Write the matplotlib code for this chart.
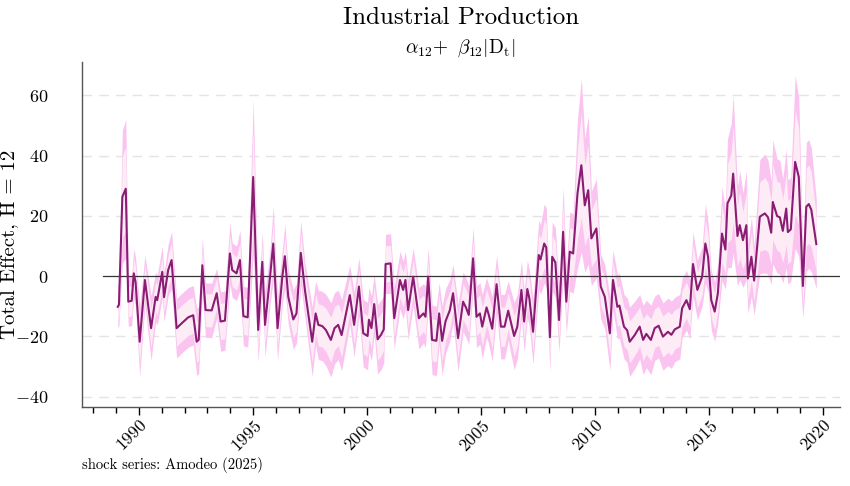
import numpy as np
import matplotlib
matplotlib.use("Agg")
import matplotlib.pyplot as plt
from matplotlib.ticker import MultipleLocator

plt.rcParams['font.family'] = 'serif'
plt.rcParams['font.serif'] = ['cmr10']
plt.rcParams['mathtext.fontset'] = 'cm'
plt.rcParams['axes.formatter.use_mathtext'] = True

# date (decimal year), point estimate and standard error of the H=12 total effect
dates = [1989.07, 1989.12, 1989.27, 1989.42, 1989.53, 1989.68, 1989.77, 1989.85,
         1990.03, 1990.26, 1990.53, 1990.73, 1990.80, 1991.02, 1991.10, 1991.28,
         1991.43, 1991.65, 1991.87, 1992.16, 1992.38, 1992.53, 1992.62, 1992.78,
         1992.92, 1993.19, 1993.41, 1993.58, 1993.77, 1993.99, 1994.09, 1994.28,
         1994.43, 1994.58, 1994.77, 1995.01, 1995.23, 1995.41, 1995.53, 1995.75,
         1995.89, 1996.08, 1996.29, 1996.40, 1996.55, 1996.77, 1996.91, 1997.10,
         1997.28, 1997.60, 1997.75, 1997.87, 1998.04, 1998.20, 1998.42, 1998.58,
         1998.74, 1998.89, 1999.25, 1999.44, 1999.65, 1999.84, 2000.03, 2000.09,
         2000.20, 2000.32, 2000.47, 2000.62, 2000.74, 2000.82, 2001.04, 2001.20,
         2001.45, 2001.59, 2001.69, 2001.81, 2002.03, 2002.28, 2002.48, 2002.57,
         2002.69, 2002.86, 2003.05, 2003.17, 2003.30, 2003.45, 2003.64, 2003.78,
         2004.00, 2004.22, 2004.35, 2004.47, 2004.66, 2004.81, 2004.96, 2005.06,
         2005.25, 2005.33, 2005.50, 2005.69, 2005.88, 2006.04, 2006.20, 2006.46,
         2006.60, 2006.78, 2006.90, 2007.04, 2007.13, 2007.29, 2007.54, 2007.62,
         2007.78, 2007.87, 2008.03, 2008.13, 2008.27, 2008.43, 2008.61, 2008.75,
         2008.90, 2009.05, 2009.24, 2009.41, 2009.56, 2009.71, 2009.85, 2010.07,
         2010.26, 2010.44, 2010.66, 2010.80, 2010.99, 2011.08, 2011.28, 2011.42,
         2011.53, 2011.75, 2011.97, 2012.12, 2012.26, 2012.46, 2012.63, 2012.80,
         2012.99, 2013.21, 2013.36, 2013.51, 2013.73, 2013.83, 2014.02, 2014.17,
         2014.31, 2014.50, 2014.71, 2014.85, 2014.97, 2015.11, 2015.26, 2015.40,
         2015.58, 2015.73, 2015.82, 2015.99, 2016.07, 2016.26, 2016.36, 2016.50,
         2016.65, 2016.72, 2016.87, 2016.99, 2017.24, 2017.46, 2017.60, 2017.74,
         2017.81, 2018.00, 2018.12, 2018.25, 2018.40, 2018.47, 2018.60, 2018.79,
         2018.95, 2019.13, 2019.28, 2019.39, 2019.50, 2019.72]

effect = [-10.2, -9.5, 26.3, 29.0, -8.5, -8.2, 0.9, -2.0,
          -21.8, -1.3, -17.3, -6.9, -8.0, 1.4, -7.0, 2.0,
          5.3, -17.3, -15.7, -13.7, -13.0, -21.8, -21.2, 3.6,
          -11.3, -11.4, -5.7, -15.1, -14.8, 7.5, 2.0, 0.9,
          5.3, -13.3, -13.7, 32.9, -17.9, 4.7, -16.2, -0.2,
          10.8, -17.3, -0.2, 6.6, -6.9, -14.4, -12.4, 7.7,
          -4.6, -21.8, -12.4, -16.2, -16.6, -17.9, -21.2, -17.3,
          -16.2, -19.6, -6.3, -16.2, -3.5, -19.0, -19.9, -14.5,
          -17.3, -9.3, -21.0, -19.5, -17.7, 4.0, 4.2, -14.0,
          -1.3, -4.6, -1.3, -11.3, -0.2, -14.0, -12.4, -13.5,
          -0.2, -21.2, -21.5, -12.4, -21.5, -15.0, -11.3, -5.7,
          -20.6, -8.5, -10.5, -12.9, 5.9, -13.5, -12.4, -16.8,
          -10.4, -12.4, -17.5, -2.7, -16.8, -16.8, -11.5, -19.9,
          -16.8, -4.6, -15.1, -4.3, -7.5, -18.5, 7.0, 5.5,
          10.8, 9.5, -20.3, 6.4, 4.5, -14.6, 14.7, -8.5,
          8.1, 7.5, 27.4, 36.8, 23.5, 28.5, 12.5, 15.8,
          -3.5, -6.9, -19.0, -1.3, -10.2, -9.8, -16.8, -18.0,
          -21.8, -19.6, -16.8, -21.2, -19.2, -21.2, -17.3, -16.5,
          -20.1, -18.5, -19.5, -17.7, -16.8, -10.7, -8.0, -11.0,
          4.0, -4.6, -0.2, 10.8, 6.4, -8.0, -11.8, -5.7,
          14.1, 8.8, 24.1, 26.8, 34.0, 13.3, 16.9, 11.9,
          16.9, -0.8, 6.4, -1.5, 19.7, 20.8, 19.5, 14.4,
          24.6, 19.9, 19.5, 15.0, 22.4, 14.6, 15.5, 37.9,
          32.9, -3.3, 23.0, 23.9, 22.0, 10.6]

std_err = [4.3, 4.3, 13.4, 14.0, 5.0, 5.0, 5.0, 5.0,
           7.0, 5.0, 6.5, 5.0, 5.0, 5.2, 5.0, 5.2,
           5.8, 6.0, 6.0, 6.0, 6.0, 6.8, 6.8, 5.5,
           5.5, 5.5, 5.0, 6.0, 6.0, 6.2, 5.5, 5.5,
           6.0, 6.0, 6.0, 15.5, 6.5, 6.0, 6.5, 5.5,
           7.5, 6.5, 5.5, 6.5, 5.5, 6.0, 6.0, 6.5,
           5.5, 7.0, 6.5, 7.0, 7.0, 7.2, 7.5, 7.2,
           7.0, 7.2, 6.0, 6.5, 5.8, 6.8, 6.8, 6.5,
           6.5, 6.0, 7.0, 7.0, 6.8, 6.0, 6.0, 6.2,
           5.8, 5.8, 5.8, 6.0, 5.8, 6.2, 6.0, 6.2,
           5.8, 7.0, 7.0, 6.2, 7.0, 6.5, 6.2, 5.8,
           6.8, 6.0, 6.0, 6.0, 6.2, 6.2, 6.2, 6.5,
           6.0, 6.0, 6.5, 5.8, 6.5, 6.5, 6.0, 6.8,
           6.5, 5.8, 6.2, 5.8, 5.8, 6.5, 7.0, 7.0,
           8.0, 8.0, 7.0, 7.0, 7.0, 6.5, 9.0, 6.5,
           8.0, 8.0, 15.0, 17.5, 13.5, 15.0, 9.5, 10.0,
           6.5, 6.5, 7.5, 6.0, 6.5, 6.5, 6.5, 6.5,
           7.0, 6.8, 6.5, 7.0, 6.8, 7.0, 6.5, 6.5,
           6.8, 6.8, 6.8, 6.5, 6.5, 6.0, 6.0, 6.0,
           6.5, 6.0, 6.0, 8.0, 7.0, 6.0, 6.0, 6.0,
           9.5, 8.0, 13.0, 14.5, 16.0, 10.0, 11.0, 9.5,
           11.0, 7.0, 8.0, 7.0, 11.5, 12.0, 11.5, 10.5,
           12.5, 11.5, 11.5, 10.5, 12.0, 10.5, 10.5, 17.5,
           16.0, 6.5, 13.0, 13.0, 12.5, 9.0]

x = np.array(dates)
est = np.array(effect)
se = np.array(std_err)

fig = plt.figure(figsize=(8.5, 4.86), dpi=100)
ax = fig.add_axes([0.0965, 0.163, 0.8915, 0.709])

# 90% and 68% bands
ax.fill_between(x, est - 1.645 * se, est + 1.645 * se, color='#fac3f0', lw=0, zorder=2)
ax.fill_between(x, est - se, est + se, color='#fdebf5', lw=0, zorder=3)
ax.plot(x, est, color='#8a1c74', lw=1.5, zorder=4)
ax.plot([1988.4, 2020.75], [0, 0], color='#333333', lw=0.9, zorder=3.5)

for yv in [-40, -20, 20, 40, 60]:
    ax.axhline(yv, color='#e4e4e4', lw=1.0, ls=(0, (7, 5)), zorder=1)

ax.set_xlim(1987.5, 2020.75)
ax.set_ylim(-43.4, 71)
ax.set_yticks([-40, -20, 0, 20, 40, 60])
ax.xaxis.set_major_locator(MultipleLocator(5))
ax.xaxis.set_minor_locator(MultipleLocator(1))
ax.tick_params(axis='y', length=0, pad=24, labelsize=13)
ax.tick_params(axis='x', which='major', length=6, width=1.0, labelsize=12.5, pad=1.5)
ax.tick_params(axis='x', which='minor', length=4, width=1.0)
for lab in ax.get_xticklabels():
    lab.set_rotation(45)
    lab.set_ha('right')
    lab.set_rotation_mode('anchor')

for s in ['top', 'right']:
    ax.spines[s].set_visible(False)
for s in ['left', 'bottom']:
    ax.spines[s].set_color('#555555')
    ax.spines[s].set_linewidth(1.0)

ax.set_ylabel('Total Effect, H = 12', fontsize=15)
ax.yaxis.set_label_coords(-0.084, 0.47)

fig.text(0.542, 0.963, 'Industrial Production', ha='center', va='center', fontsize=18)
fig.text(0.542, 0.9, r'$\alpha_{12}\!+\ \beta_{12}|\mathrm{D}_{\mathrm{t}}|$', ha='center', va='center', fontsize=14)
fig.text(0.0965, 0.044, 'shock series: Amodeo (2025)', ha='left', va='center', fontsize=10.5)

fig.savefig('out.png', dpi=100)
